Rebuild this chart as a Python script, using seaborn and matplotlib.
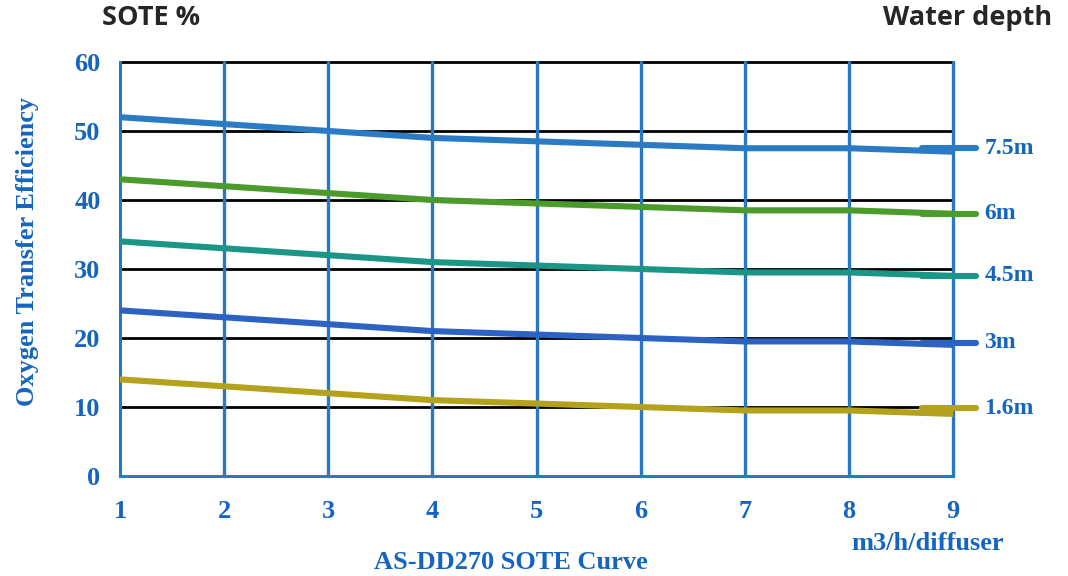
import numpy as np
import pandas as pd
import matplotlib
matplotlib.use("Agg")
import matplotlib.pyplot as plt
import seaborn as sns

# air flow per diffuser (m3/h)
flow = [1, 2, 3, 4, 5, 6, 7, 8, 9]

# SOTE % per water depth
depths = ['7.5m', '6m', '4.5m', '3m', '1.6m']
sote_75 = [52, 51, 50, 49, 48.5, 48, 47.5, 47.5, 47]
sote_60 = [43, 42, 41, 40, 39.5, 39, 38.5, 38.5, 38]
sote_45 = [34, 33, 32, 31, 30.5, 30, 29.5, 29.5, 29]
sote_30 = [24, 23, 22, 21, 20.5, 20, 19.5, 19.5, 19]
sote_16 = [14, 13, 12, 11, 10.5, 10, 9.5, 9.5, 9]
label_level = [47.5, 38, 29, 19.3, 9.8]

colors = ['#2b7bc4', '#4a9a2c', '#1b9585', '#2c62c2', '#b4a21c']
blue = '#2878c6'
text_blue = '#1565c0'

df = pd.DataFrame({
    'flow': flow * 5,
    'sote': sote_75 + sote_60 + sote_45 + sote_30 + sote_16,
    'depth': np.repeat(depths, len(flow)),
})

sns.set_style('white')
fig = plt.figure(figsize=(10.68, 5.76), dpi=100)
ax = fig.add_axes([0.1124, 0.1736, 0.7800, 0.7188])

# grid
for y in range(10, 70, 10):
    ax.axhline(y, color='black', lw=2.0, zorder=1, clip_on=False)
for x in flow[1:]:
    ax.axvline(x, color=blue, lw=2.4, zorder=2, clip_on=False)

sns.lineplot(data=df, x='flow', y='sote', hue='depth', hue_order=depths,
             palette=colors, lw=4.4, legend=False, ax=ax, zorder=3)

# end markers + depth labels
for lvl, name, c in zip(label_level, depths, colors):
    ax.plot([8.7, 9.22], [lvl, lvl], color=c, lw=4.4, solid_capstyle='round',
            clip_on=False, zorder=4)
    ax.text(9.3, lvl, name, color=text_blue, fontsize=17, fontweight='bold',
            family='Liberation Serif', va='center', ha='left')

ax.set_xlim(1, 9)
ax.set_ylim(0, 60)
ax.set_xticks(flow)
ax.set_xticks(np.arange(1.5, 9, 1), minor=True)
ax.set_yticks(range(0, 70, 10))
ax.set_yticks(range(0, 61, 2), minor=True)

for s in ['top', 'right']:
    ax.spines[s].set_visible(False)
for s in ['left', 'bottom']:
    ax.spines[s].set_color(blue)
    ax.spines[s].set_linewidth(2.2)

ax.tick_params(axis='both', which='major', direction='in', length=0, pad=14,
               labelcolor=text_blue, labelsize=19)
ax.tick_params(axis='y', which='minor', direction='in', length=6, width=2, color=blue)
ax.tick_params(axis='x', which='minor', direction='in', length=6, width=2, color=blue)
ax.tick_params(axis='x', which='major', pad=17)
for lab in ax.get_xticklabels() + ax.get_yticklabels():
    lab.set_family('Liberation Serif')
    lab.set_fontweight('bold')

ax.set_xlabel('')
ax.set_ylabel('Oxygen Transfer Efficiency', color=text_blue, fontsize=19,
              fontweight='bold', family='Liberation Serif')
ax.yaxis.set_label_coords(-0.097, 0.543)

fig.text(0.141, 0.968, 'SOTE %', fontsize=19.5, fontweight='bold',
         family='Open Sans', ha='center', va='center')
fig.text(0.906, 0.968, 'Water depth', fontsize=19.5, fontweight='bold',
         family='Open Sans', ha='center', va='center')
fig.text(0.478, 0.024, 'AS-DD270 SOTE Curve', color=text_blue, fontsize=19,
         fontweight='bold', family='Liberation Serif', ha='center', va='center')
fig.text(0.869, 0.057, 'm3/h/diffuser', color=text_blue, fontsize=19,
         fontweight='bold', family='Liberation Serif', ha='center', va='center')

fig.savefig('out.png', dpi=100)
